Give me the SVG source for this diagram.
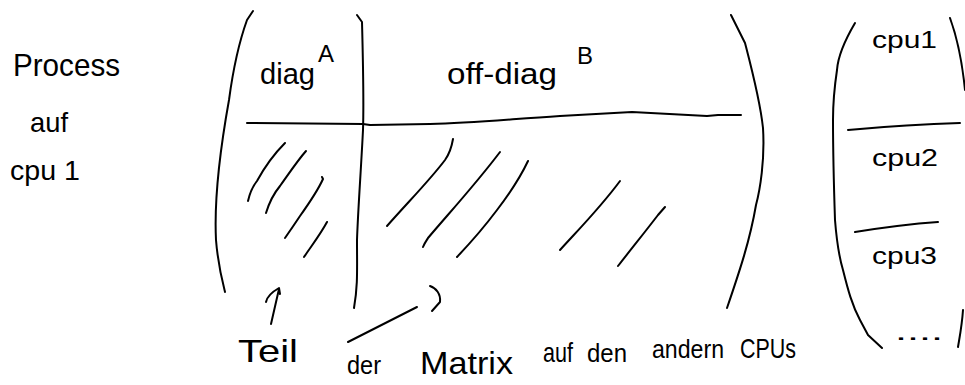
<svg xmlns="http://www.w3.org/2000/svg" width="965" height="385" viewBox="0 0 965 385">
<style>
.s{fill:none;stroke:#000;stroke-width:2;stroke-linecap:round;stroke-linejoin:round}
.t{font-family:"Liberation Sans","DejaVu Sans",sans-serif;fill:#000}
</style>
<rect width="965" height="385" fill="#fff"/>
<g id="process-label">
<text class="t" x="13" y="76" font-size="32" textLength="107" lengthAdjust="spacingAndGlyphs">Process</text>
<text class="t" x="30" y="132" font-size="28" textLength="38" lengthAdjust="spacingAndGlyphs">auf</text>
<text class="t" x="10" y="180" font-size="28" textLength="70" lengthAdjust="spacingAndGlyphs">cpu 1</text>
</g>
<g id="matrix">
<path class="s" d="M253,11 L247,20 C238,45 233,70 229,100 C220,150 214,200 216,240 C218,265 222,280 225,292"/>
<path class="s" d="M357,15 L362,22 C363,60 364,100 363,130 C361,170 358,210 357,240 C357,270 358,285 354,308"/>
<path class="s" d="M731,15 L745,43 C752,70 760,100 763,128 C765,160 760,190 756,205 C750,240 740,270 727,308"/>
<path class="s" d="M247,123 L363,124 L370,125 L430,124 C470,123 500,120 560,116 L632,112 L707,116 L718,115 L741,115"/>
<g id="diag-A">
<text class="t" x="260" y="84" font-size="30" textLength="55" lengthAdjust="spacingAndGlyphs">diag</text>
<text class="t" x="318" y="62" font-size="24">A</text>
<path class="s" d="M248,201 C250,192 253,186 257,181 C263,170 270,158 285,143"/>
<path class="s" d="M266,213 C270,200 275,192 280,186 C290,172 298,160 306,151"/>
<path class="s" d="M285,238 C292,228 296,222 300,216 C310,202 318,190 323,179 L322,177"/>
<path class="s" d="M304,257 C312,245 320,235 327,222"/>
</g>
<g id="offdiag-B">
<text class="t" x="447" y="84" font-size="30" textLength="110" lengthAdjust="spacingAndGlyphs">off-diag</text>
<text class="t" x="577" y="64" font-size="24">B</text>
<path class="s" d="M387,226 C410,200 430,180 445,160 C450,153 452,145 453,139"/>
<path class="s" d="M423,247 C425,242 427,240 428,238 C450,212 475,185 500,152"/>
<path class="s" d="M457,257 C475,238 488,222 497,210 C510,193 520,178 528,161"/>
<path class="s" d="M560,250 C580,228 600,208 620,181"/>
<path class="s" d="M618,266 C632,248 645,232 658,215 L665,207"/>
</g>
</g>
<g id="cpu-column">
<path class="s" d="M855,23 C845,40 838,55 837,70 C834,90 833,105 833,120 C833,160 834,190 835,220 C837,245 840,260 843,270 C848,290 852,305 860,320 L868,335 L882,348"/>
<path class="s" d="M950,18 C958,40 962,60 965,90"/>
<path class="s" d="M963,310 C962,325 960,335 958,347"/>
<g id="cpu1"><text class="t" x="872" y="48" font-size="24" textLength="65" lengthAdjust="spacingAndGlyphs">cpu1</text></g>
<path class="s" d="M848,130 C880,127 920,124 960,123"/>
<g id="cpu2"><text class="t" x="872" y="166" font-size="24" textLength="66" lengthAdjust="spacingAndGlyphs">cpu2</text></g>
<path class="s" d="M855,232 C880,228 910,224 938,222"/>
<g id="cpu3"><text class="t" x="872" y="264" font-size="24" textLength="65" lengthAdjust="spacingAndGlyphs">cpu3</text></g>
<g id="more"><text class="t" x="895" y="340" font-size="24" textLength="48" lengthAdjust="spacingAndGlyphs">....</text></g>
</g>
<g id="connectors">
<path class="s" d="M271,324 L279,289"/>
<path class="s" d="M266,302 C267,297 272,292 279,288 L280,294"/>
<path class="s" d="M348,342 L417,307"/>
<path class="s" d="M430,286 C436,288 441,294 440,302 L432,311"/>
</g>
<g id="caption">
<text class="t" x="238" y="362" font-size="32" textLength="60" lengthAdjust="spacingAndGlyphs">Teil</text>
<text class="t" x="347" y="374" font-size="26" textLength="34" lengthAdjust="spacingAndGlyphs">der</text>
<text class="t" x="420" y="374" font-size="32" textLength="93" lengthAdjust="spacingAndGlyphs">Matrix</text>
<text class="t" x="543" y="362" font-size="28" textLength="30" lengthAdjust="spacingAndGlyphs">auf</text>
<text class="t" x="587" y="362" font-size="26" textLength="40" lengthAdjust="spacingAndGlyphs">den</text>
<text class="t" x="652" y="358" font-size="26" textLength="72" lengthAdjust="spacingAndGlyphs">andern</text>
<text class="t" x="740" y="358" font-size="28" textLength="56" lengthAdjust="spacingAndGlyphs">CPUs</text>
</g>
</svg>
